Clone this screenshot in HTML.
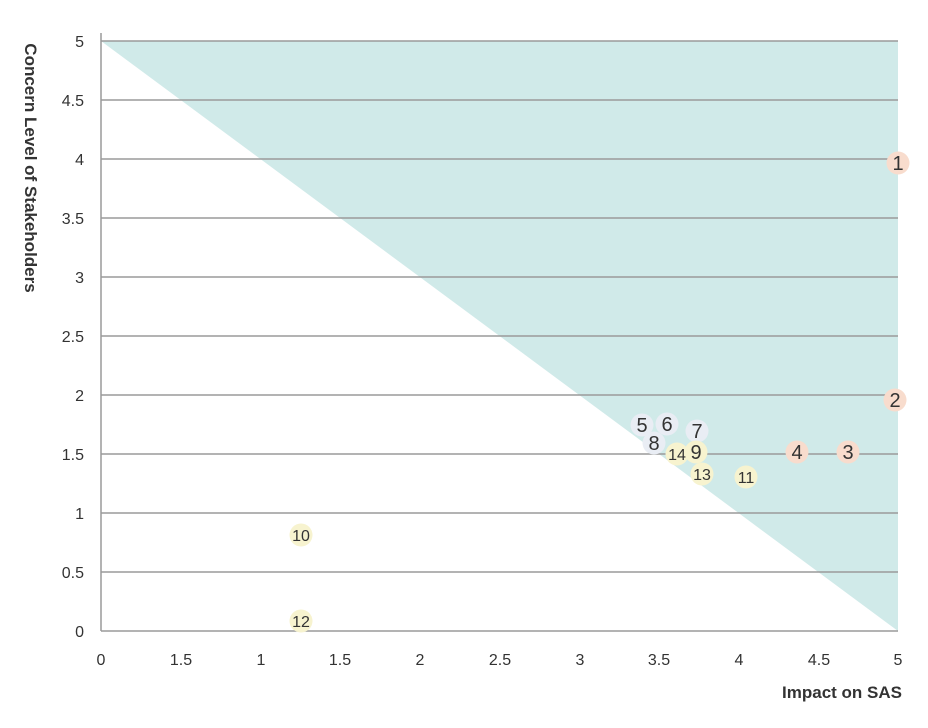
<!DOCTYPE html><html><head><style>body{margin:0;background:#fff}</style></head><body>
<svg width="928" height="723" xmlns="http://www.w3.org/2000/svg" font-family="Liberation Sans, sans-serif">
<polygon points="101,41 898,41 898,631" fill="#d0eae9"/>
<g stroke="#9a9a9a" stroke-width="1.5">
<line x1="101" y1="41" x2="898" y2="41"/><line x1="101" y1="100" x2="898" y2="100"/>
<line x1="101" y1="159" x2="898" y2="159"/><line x1="101" y1="218" x2="898" y2="218"/>
<line x1="101" y1="277" x2="898" y2="277"/><line x1="101" y1="336" x2="898" y2="336"/>
<line x1="101" y1="395" x2="898" y2="395"/><line x1="101" y1="454" x2="898" y2="454"/>
<line x1="101" y1="513" x2="898" y2="513"/><line x1="101" y1="572" x2="898" y2="572"/>
<line x1="101" y1="631" x2="898" y2="631"/><line x1="101" y1="33" x2="101" y2="631"/>
</g>
<g font-size="16" fill="#333" text-anchor="end">
<text x="84" y="47">5</text><text x="84" y="106">4.5</text><text x="84" y="165">4</text><text x="84" y="224">3.5</text><text x="84" y="283">3</text><text x="84" y="342">2.5</text><text x="84" y="401">2</text><text x="84" y="460">1.5</text><text x="84" y="519">1</text><text x="84" y="578">0.5</text><text x="84" y="637">0</text>
</g>
<g font-size="16" fill="#333" text-anchor="middle">
<text x="101" y="665">0</text><text x="181" y="665">1.5</text><text x="261" y="665">1</text><text x="340" y="665">1.5</text><text x="420" y="665">2</text><text x="500" y="665">2.5</text><text x="580" y="665">3</text><text x="659" y="665">3.5</text><text x="739" y="665">4</text><text x="819" y="665">4.5</text><text x="898" y="665">5</text>
</g>
<text x="902" y="698" font-size="17" font-weight="bold" fill="#333" text-anchor="end">Impact on SAS</text>
<text transform="translate(25,168) rotate(90)" font-size="17" font-weight="bold" fill="#333" text-anchor="middle">Concern Level of Stakeholders</text>
<g fill="#333" text-anchor="middle">
<circle cx="898" cy="163" r="11.5" fill="#f8dccd"/><text x="898" y="170" font-size="20">1</text>
<circle cx="895" cy="400" r="11.5" fill="#f8dccd"/><text x="895" y="407" font-size="20">2</text>
<circle cx="848" cy="452" r="11.5" fill="#f8dccd"/><text x="848" y="459" font-size="20">3</text>
<circle cx="797" cy="452" r="11.5" fill="#f8dccd"/><text x="797" y="459" font-size="20">4</text>
<circle cx="642" cy="425" r="11.5" fill="#e9edf4"/><text x="642" y="432" font-size="20">5</text>
<circle cx="667" cy="424" r="11.5" fill="#e9edf4"/><text x="667" y="431" font-size="20">6</text>
<circle cx="697" cy="431" r="11.5" fill="#e9edf4"/><text x="697" y="438" font-size="20">7</text>
<circle cx="654" cy="443" r="11.5" fill="#e9edf4"/><text x="654" y="450" font-size="20">8</text>
<circle cx="677" cy="454" r="11.5" fill="#f7f3cf"/><text x="677" y="460" font-size="16">14</text>
<circle cx="696" cy="452" r="11.5" fill="#f7f3cf"/><text x="696" y="459" font-size="20">9</text>
<circle cx="702" cy="474" r="11.5" fill="#f7f3cf"/><text x="702" y="480" font-size="16">13</text>
<circle cx="746" cy="477" r="11.5" fill="#f7f3cf"/><text x="746" y="483" font-size="16">11</text>
<circle cx="301" cy="535" r="11.5" fill="#f7f3cf"/><text x="301" y="541" font-size="16">10</text>
<circle cx="301" cy="621" r="11.5" fill="#f7f3cf"/><text x="301" y="627" font-size="16">12</text>
</g>
</svg>
</body></html>
